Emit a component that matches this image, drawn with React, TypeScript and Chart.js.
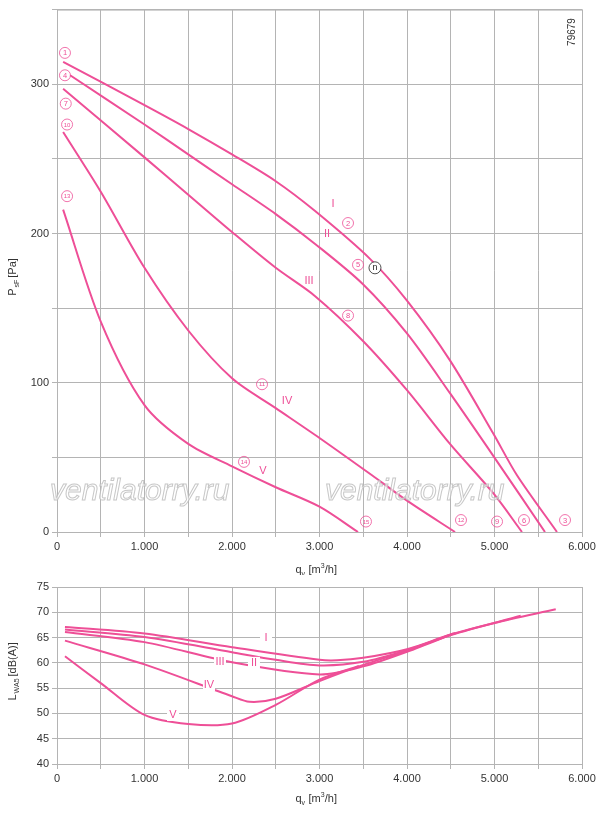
import React, { useEffect, useRef } from "react";
import { Chart, registerables } from "chart.js";
Chart.register(...registerables);

const PINK = "#ee4f97";
const GRID = "#b4b4b4";
const FONT = "'Liberation Sans', Arial, sans-serif";

// Pressure curves: [q m3/h, P Pa]
const pI = [[70, 315], [1000, 286], [1500, 270], [2000, 253], [2500, 235], [2950, 215], [3577, 183], [4000, 155], [4491, 115], [4986, 66], [5257, 38], [5714, 0]];
const pII = [[150, 306], [1000, 273], [1500, 253], [2000, 233], [2500, 213], [2950, 193], [3497, 166], [4000, 133], [4491, 93], [4986, 51], [5577, 0]];
const pIII = [[70, 297], [1000, 251], [1500, 226], [2000, 201], [2500, 177], [2950, 158], [3497, 128], [4000, 95], [4491, 59], [4986, 26], [5314, 0]];
const pIV = [[70, 268], [500, 228], [1000, 177], [1500, 135], [2000, 103], [2500, 83], [3000, 63], [3600, 38], [4000, 21], [4549, 0]];
const pV = [[70, 216], [500, 141], [1000, 85], [1500, 59], [2000, 44], [2500, 30], [3000, 17], [3440, 0]];

// Sound power curves: [q m3/h, dB(A)]
const sI = [[91, 67.1], [1000, 65.8], [2000, 63.1], [3000, 60.6], [3200, 60.5], [3500, 61], [4000, 62.7], [4500, 65.6], [5000, 67.9], [5700, 70.6]];
const sII = [[91, 66.6], [1000, 65.1], [2000, 62.1], [2500, 60.6], [3000, 59.5], [3500, 60.2], [4000, 62.5], [4500, 65.5], [5300, 69.3]];
const sIII = [[91, 66.1], [1000, 64.1], [2000, 60.1], [3000, 57.7], [3500, 59.3], [4000, 62.2], [4550, 65.9]];
const sIV = [[91, 64.4], [1000, 59.7], [2000, 53.4], [2200, 52.3], [2500, 52.9], [3000, 56.4], [3500, 59.6], [4000, 62.4], [4530, 65.8]];
const sV = [[91, 61.3], [500, 56], [1000, 49.7], [1500, 47.9], [2000, 48], [2500, 51.7], [3000, 56.7], [3450, 59.4]];

const circleLabels: [string, number, number][] = [
  ["1", 91, 321], ["4", 91, 306], ["7", 100, 287], ["10", 115, 273], ["13", 115, 225],
  ["2", 3326, 207], ["5", 3440, 179], ["8", 3326, 145], ["11", 2343, 99], ["14", 2137, 47],
  ["15", 3531, 7], ["12", 4617, 8], ["9", 5029, 7], ["6", 5337, 8], ["3", 5806, 8],
];
const topRoman: [string, number, number][] = [
  ["I", 3154, 220], ["II", 3086, 200], ["III", 2880, 168], ["IV", 2629, 88], ["V", 2354, 41],
];
const botRoman: [string, number, number][] = [
  ["I", 2389, 64.9], ["II", 2251, 60], ["III", 1863, 60.2], ["IV", 1737, 55.6], ["V", 1326, 49.7],
];

const toPts = (a: number[][]) => a.map(([x, y]) => ({ x, y }));
const fmtK = (v: number) => (v === 0 ? "0" : (v / 1000).toFixed(3));

function makeConfig(series: number[][][], yMin: number, yMax: number, yStep: number, yLabelEvery: number,
  plotTop: number, xAxisH: number, titleOff: number, yTitle: string, ySub: string, ySuffix: string, extra: any) {
  return {
    type: "scatter" as const,
    data: {
      datasets: series.map((s) => ({
        data: toPts(s), showLine: true, borderColor: PINK, borderWidth: 2, pointRadius: 0,
        tension: 0.3, fill: false,
      })),
    },
    options: {
      animation: false, responsive: false, maintainAspectRatio: false,
      layout: { padding: { top: plotTop, right: 18, left: 0, bottom: 0 } },
      plugins: { legend: { display: false }, tooltip: { enabled: false } },
      scales: {
        x: {
          type: "linear", min: 0, max: 6000,
          ticks: { stepSize: 500, color: "#333", font: { family: FONT, size: 11 }, maxRotation: 0, autoSkip: false,
            callback: (v: number) => (v % 1000 === 0 ? fmtK(v) : "") },
          grid: { color: GRID, lineWidth: 1, tickLength: 5 },
          border: { color: GRID },
          afterFit: (s: any) => { s.height = xAxisH; },
        },
        y: {
          type: "linear", min: yMin, max: yMax,
          ticks: { stepSize: yStep, color: "#333", font: { family: FONT, size: 11 }, autoSkip: false,
            callback: (v: number) => (Math.round(v) % yLabelEvery === 0 ? String(v) : "") },
          grid: { color: GRID, lineWidth: 1, tickLength: 5 },
          border: { color: GRID },
          afterFit: (s: any) => { s.width = 57; },
        },
      },
    },
    plugins: [{
      id: "deco",
      afterDraw(chart: any) {
        const c = chart.ctx; const xs = chart.scales.x; const ys = chart.scales.y; const ca = chart.chartArea;
        c.save();
        c.strokeStyle = GRID; c.lineWidth = 1;
        c.strokeRect(ca.left + 0.5, ca.top + 0.5, ca.right - ca.left, ca.bottom - ca.top);
        c.fillStyle = "#333"; c.font = `11px ${FONT}`; c.textBaseline = "alphabetic";
        const tx = (ca.left + ca.right) / 2 - 24; const ty = ca.bottom + titleOff;
        c.textAlign = "left";
        c.fillText("q", tx, ty);
        c.font = `7px ${FONT}`; c.fillText("v", tx + 6, ty + 3);
        c.font = `11px ${FONT}`; c.fillText(" [m", tx + 10, ty);
        const w = c.measureText(" [m").width;
        c.font = `7px ${FONT}`; c.fillText("3", tx + 10 + w, ty - 5);
        c.font = `11px ${FONT}`; c.fillText("/h]", tx + 14 + w, ty);
        c.save();
        c.translate(16, (ca.top + ca.bottom) / 2 + 25);
        c.rotate(-Math.PI / 2);
        c.font = `11px ${FONT}`; c.fillText(yTitle, 0, 0);
        const w1 = c.measureText(yTitle).width;
        c.font = `7px ${FONT}`; c.fillText(ySub, w1 + 1, 3);
        const w2 = c.measureText(ySub).width;
        c.font = `11px ${FONT}`; c.fillText(ySuffix, w1 + w2 + 3, 0);
        c.restore();
        extra(c, xs, ys, ca);
        c.restore();
      },
    }],
  };
}

function drawTopExtra(c: any, xs: any, ys: any) {
  c.font = `italic 30px ${FONT}`; c.textAlign = "left"; c.textBaseline = "alphabetic";
  c.fillStyle = "rgba(255,255,255,0.6)"; c.strokeStyle = "rgba(185,185,185,0.8)"; c.lineWidth = 1;
  for (const x of [50, 325]) { c.fillText("ventilatorry.ru", x, 500); c.strokeText("ventilatorry.ru", x, 500); }
  c.strokeStyle = PINK; c.fillStyle = PINK; c.lineWidth = 0.8; c.textAlign = "center"; c.textBaseline = "middle";
  for (const [t, q, p] of circleLabels) {
    const x = xs.getPixelForValue(q), y = ys.getPixelForValue(p);
    c.beginPath(); c.arc(x, y, 5.5, 0, Math.PI * 2); c.stroke();
    c.font = `${t.length > 1 ? 6 : 7.5}px ${FONT}`; c.fillText(t, x, y + 0.5);
  }
  {
    const x = xs.getPixelForValue(3634), y = ys.getPixelForValue(177);
    c.strokeStyle = "#222"; c.fillStyle = "#fff"; c.beginPath(); c.arc(x, y, 6, 0, Math.PI * 2); c.fill(); c.stroke();
    c.fillStyle = "#222"; c.font = `9px ${FONT}`; c.fillText("n", x, y);
  }
  c.font = `11px ${FONT}`; c.fillStyle = PINK;
  for (const [t, q, p] of topRoman) c.fillText(t, xs.getPixelForValue(q), ys.getPixelForValue(p));
  c.save(); c.fillStyle = "#333"; c.font = `10px ${FONT}`;
  c.translate(572, 32); c.rotate(-Math.PI / 2); c.fillText("79679", 0, 0); c.restore();
}

function drawBotExtra(c: any, xs: any, ys: any) {
  c.font = `11px ${FONT}`; c.textAlign = "center"; c.textBaseline = "middle";
  for (const [t, q, p] of botRoman) {
    const x = xs.getPixelForValue(q), y = ys.getPixelForValue(p);
    c.fillStyle = "#fff"; c.fillRect(x - 6, y - 6, 12, 12);
    c.fillStyle = PINK; c.fillText(t, x, y);
  }
}

export default function App() {
  const topRef = useRef<HTMLCanvasElement>(null);
  const botRef = useRef<HTMLCanvasElement>(null);
  useEffect(() => {
    const top = new Chart(topRef.current!, makeConfig([pI, pII, pIII, pIV, pV], 0, 350, 50, 100, 8, 43, 41,
      "P", "sF", "[Pa]", drawTopExtra) as any);
    const bot = new Chart(botRef.current!, makeConfig([sI, sII, sIII, sIV, sV], 40, 75, 5, 5, 12, 52, 38,
      "L", "WA5", "[dB(A)]", drawBotExtra) as any);
    return () => { top.destroy(); bot.destroy(); };
  }, []);
  return (
    <div style={{ position: "fixed", left: 0, top: 0, width: 600, height: 816, background: "#fff" }}>
      <canvas ref={topRef} width={600} height={575} style={{ position: "absolute", left: 0, top: 0, width: 600, height: 575 }} />
      <canvas ref={botRef} width={600} height={241} style={{ position: "absolute", left: 0, top: 575, width: 600, height: 241 }} />
    </div>
  );
}
